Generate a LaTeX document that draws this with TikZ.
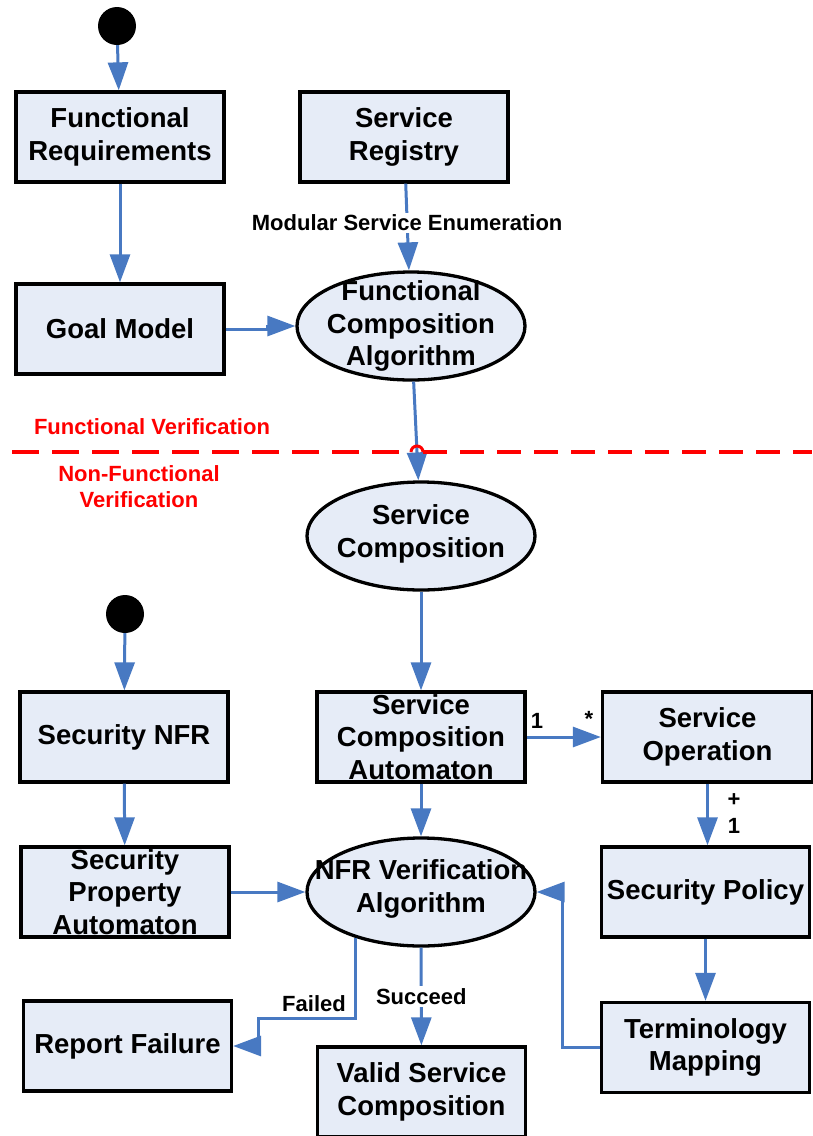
\documentclass[tikz,border=0pt]{standalone}
\usepackage{fontspec}
\setmainfont{Liberation Sans}
\usetikzlibrary{arrows.meta,calc,shapes.geometric}
\definecolor{boxfill}{RGB}{230,236,247}
\definecolor{linkblue}{RGB}{72,121,194}
\begin{document}
\begin{tikzpicture}[x=1pt,y=-1pt,
  box/.style={draw=black,line width=3.3pt,fill=boxfill,minimum width=208pt,minimum height=90pt,inner sep=0pt,align=center,font=\fontsize{27.5}{32.5}\selectfont\bfseries},
  oval/.style={ellipse,draw=black,line width=3.3pt,fill=boxfill,minimum width=228pt,minimum height=108pt,inner sep=0pt},
  ovaltext/.style={align=center,inner sep=0pt,font=\fontsize{27.5}{32.5}\selectfont\bfseries},
  startdot/.style={circle,fill=black,minimum size=38pt,inner sep=0pt},
  link/.style={draw=linkblue,line width=3pt,-{Triangle[length=28pt,width=20pt]}},
  lbl/.style={font=\fontsize{22}{26}\selectfont\bfseries,inner sep=2pt},
  redlbl/.style={lbl,text=red,align=center}
]
\useasboundingbox (0,0) rectangle (812,1136);

% nodes
\node[startdot] (s1) at (117,26) {};
\node[box] (fr) at (120,137) {Functional\\Requirements};
\node[box] (sr) at (404,137) {Service\\Registry};
\node[box] (gm) at (120,329) {Goal Model};
\node[oval] (fca) at (411,326) {};
\node[ovaltext] (fcat) at (411,326) {Functional\\Composition\\Algorithm};
\node[oval] (sc) at (421,536) {};
\node[ovaltext] (sct) at (421,534) {Service\\Composition};
\node[startdot] (s2) at (125,614) {};
\node[box] (snfr) at (124,737) {Security NFR};
\node[box] (sca) at (421,737) {Service\\Composition\\Automaton};
\node[box,minimum width=210pt] (so) at (707.5,737) {Service\\Operation};
\node[box] (spa) at (125,892) {Security\\Property\\Automaton};
\node[oval] (nfr) at (421,892) {};
\node[ovaltext] (nfrt) at (421,889) {NFR Verification\\Algorithm};
\node[box] (sp) at (705.5,892) {Security Policy};
\node[box] (rf) at (127.5,1046) {Report Failure};
\node[box] (vsc) at (421.5,1092) {Valid Service\\Composition};
\node[box] (tm) at (705.5,1047.5) {Terminology\\Mapping};

% red separator
\node[redlbl] (fv) at (152,427) {Functional Verification};
\node[redlbl] (nfv) at (139,487) {Non-Functional\\Verification};

% connectors
\draw[link] (s1) -- (fr);
\draw[link] (fr) -- (gm);
\draw[link] (sr) -- node[lbl,fill=white,pos=0.45] (mse) {Modular Service Enumeration} (fca);
\draw[link] (gm.east) -- ++(42,0) |- (fca.west);
\draw[link] (fca) -- (sc);
\draw[red,line width=4pt,dash pattern=on 27pt off 13pt] (12,452) -- (411,452);
\draw[red,line width=4pt,dash pattern=on 24pt off 13pt] (423,452) -- (812,452);
\draw[red,line width=3pt] (411,452) arc[start angle=180,end angle=360,radius=6];
\draw[link] (sc) -- (sca);
\draw[link] (s2) -- (snfr);
\draw[link] (sca) -- (so);
\node[lbl] (m1) at (537,721) {1};
\node[lbl] (m2) at (589,719) {*};
\draw[link] (so.south) -- (so.south |- sp.north);
\node[lbl] (m3) at (734,800) {+};
\node[lbl] (m4) at (734,826) {1};
\draw[link] (sca) -- (nfr);
\draw[link] (snfr) -- (spa);
\draw[link] (spa) -- (nfr);
\draw[link] (sp) -- (tm);
\draw[link] (tm.west) -- ++(-37,0) |- (nfr.east);
\draw[link] (nfr.215.5) -- ++(0,81) -| ($(rf.east)+(25,0)$) -- (rf.east);
\node[lbl] (fl) at (314,1004) {Failed};
\draw[link] (nfr) -- node[lbl,fill=white,pos=0.5] (suc) {Succeed} (vsc);
\end{tikzpicture}
\end{document}
